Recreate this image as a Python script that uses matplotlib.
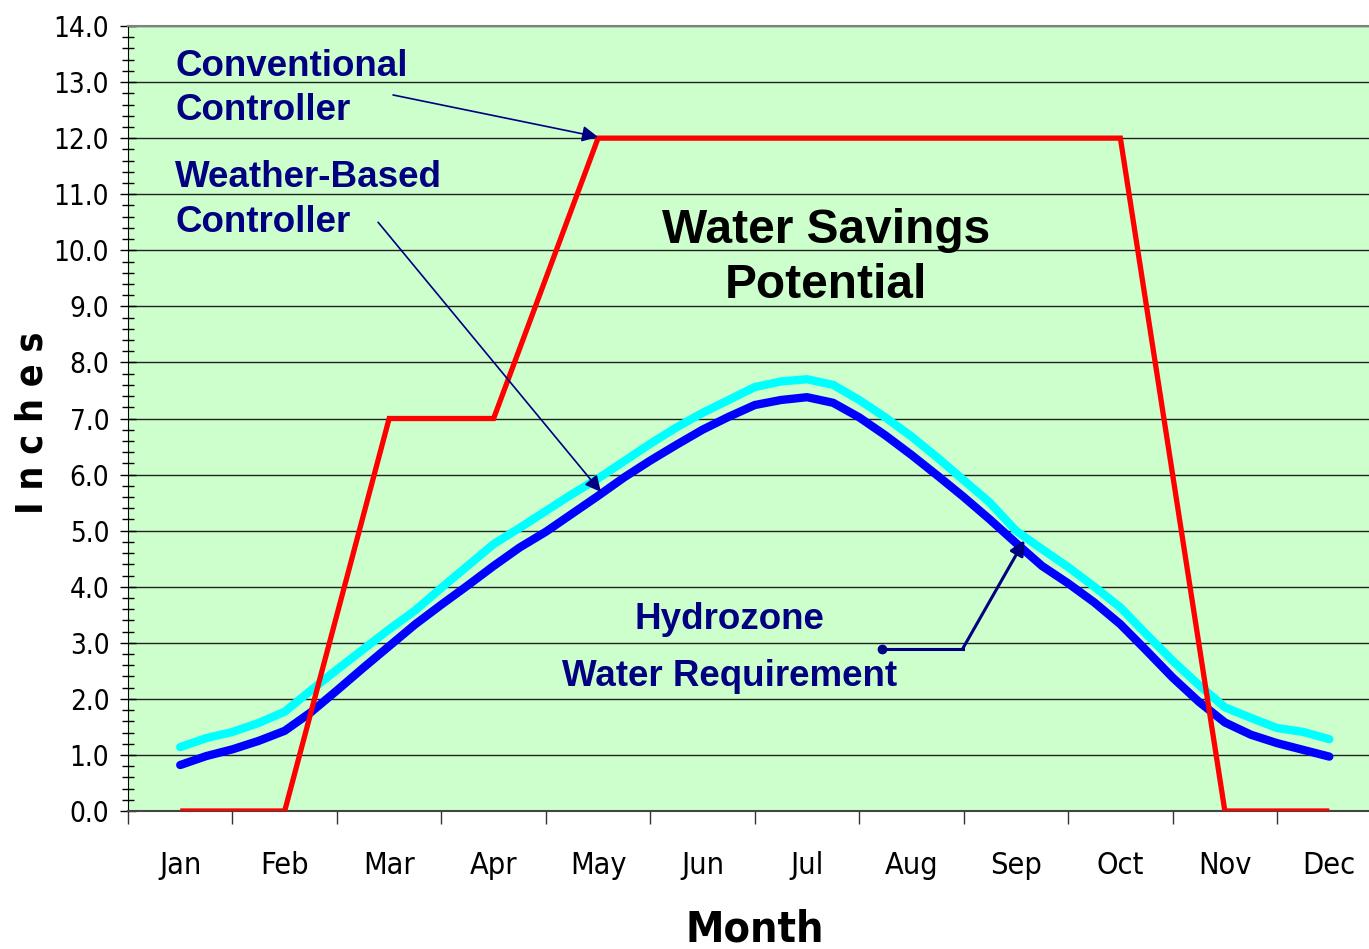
import matplotlib
matplotlib.use("Agg")
import matplotlib.pyplot as plt
from matplotlib import font_manager as fm
import numpy as np

# ---------------- data ----------------
months = ["Jan", "Feb", "Mar", "Apr", "May", "Jun",
          "Jul", "Aug", "Sep", "Oct", "Nov", "Dec"]
conventional = [0.0, 0.0, 7.0, 7.0, 12.0, 12.0, 12.0, 12.0, 12.0, 12.0, 0.0, 0.0]

# weather-based controller (quarter-month readings, Jan .. Dec)
weather_based = [0.82, 0.98, 1.10, 1.25, 1.43, 1.76, 2.15, 2.55, 2.94, 3.33,
                 3.68, 4.02, 4.37, 4.70, 4.98, 5.30, 5.62, 5.95, 6.25, 6.53,
                 6.80, 7.03, 7.24, 7.33, 7.38, 7.28, 7.02, 6.70, 6.35, 5.98,
                 5.60, 5.20, 4.78, 4.37, 4.06, 3.72, 3.33, 2.86, 2.38, 1.95,
                 1.58, 1.36, 1.21, 1.09, 0.97]
# hydrozone water requirement (quarter-month readings, Jan .. Dec)
hydrozone = [1.14, 1.30, 1.41, 1.57, 1.77, 2.15, 2.52, 2.88, 3.24, 3.58,
             3.98, 4.37, 4.76, 5.05, 5.35, 5.65, 5.93, 6.24, 6.55, 6.84,
             7.10, 7.33, 7.56, 7.66, 7.70, 7.60, 7.33, 7.02, 6.68, 6.30,
             5.90, 5.50, 5.00, 4.67, 4.35, 4.00, 3.63, 3.15, 2.68, 2.25,
             1.85, 1.66, 1.48, 1.41, 1.28]

y_ticks = [f"{v:.1f}" for v in range(15)]

# ---------------- fonts ----------------
def find_narrow(bold):
    best = None
    for f in fm.fontManager.ttflist:
        fn = f.fname.lower()
        if ("narrow" in fn or "condensed" in fn) and "mono" not in fn and "serif" not in fn:
            isbold = f.weight in ("bold", 700) or (isinstance(f.weight, int) and f.weight >= 600)
            if "oblique" in fn or "italic" in fn:
                continue
            if isbold == bold:
                if best is None or "liberation" in fn:
                    best = f.fname
    return best

nr = find_narrow(False)
nb = find_narrow(True)
arial = "Liberation Sans"
fp_tick = fm.FontProperties(fname=nr) if nr else fm.FontProperties(family=arial)
fp_bold = fm.FontProperties(fname=nb) if nb else fm.FontProperties(family=arial, weight="bold")

W, H = 1369, 949
fig = plt.figure(figsize=(W / 100, H / 100), dpi=100)
fig.patch.set_facecolor("white")

left, right, top, bottom = 128, 1369, 26, 811
ax = fig.add_axes([left / W, 1 - bottom / H, (right - left) / W, (bottom - top) / H])
ax.set_facecolor("#CCFFCC")

x_month = np.arange(len(months))
x_fine = np.arange(len(weather_based)) / 4.0

ax.plot(x_fine, hydrozone, color="#00FFFF", lw=6.0, solid_capstyle="round",
        solid_joinstyle="round", zorder=3)
ax.plot(x_fine, weather_based, color="#0000FF", lw=6.0, solid_capstyle="round",
        solid_joinstyle="round", zorder=4)
ax.plot(x_month, conventional, color="#FF0000", lw=3.8, solid_capstyle="butt",
        solid_joinstyle="miter", zorder=5)

# y axis
ax.set_yticks(np.arange(15))
ax.set_yticklabels(y_ticks)
ax.set_yticks(np.arange(0, 14.01, 0.2), minor=True)
ysize, xsize = 20, 22
ax.tick_params(axis="y", which="major", direction="inout", length=11, width=1.0,
               pad=8, colors="black")
ax.tick_params(axis="y", which="minor", direction="inout", length=9, width=1.0)

# x axis: labels at month centres, tick marks at boundaries
ax.set_xticks(x_month)
ax.set_xticklabels(months)
ax.set_xticks(np.arange(-0.5, 12, 1.0), minor=True)
ax.tick_params(axis="x", which="major", length=0, pad=29, colors="black")
ax.tick_params(axis="x", which="minor", direction="out", length=9, width=1.0,
               color="#333333")
for lab in ax.get_yticklabels():
    lab.set_fontproperties(fp_tick)
    lab.set_fontsize(ysize)
for lab in ax.get_xticklabels():
    lab.set_fontproperties(fp_tick)
    lab.set_fontsize(xsize)

ax.set_xlim(-0.5, 11.38)
ax.set_ylim(0, 14)

ax.grid(axis="y", which="major", color="#222222", lw=1.0, zorder=1)
ax.set_axisbelow(True)

ax.spines["right"].set_visible(False)
ax.spines["top"].set_color("#808080")
ax.spines["top"].set_linewidth(1.5)
ax.spines["left"].set_color("#000000")
ax.spines["bottom"].set_color("#444444")
ax.spines["bottom"].set_linewidth(1.5)

navy = "#000080"
tkw = dict(color=navy, fontsize=26.5, fontweight="bold", family=arial, zorder=7)
ax.text(-0.048, 13.11, "Conventional", ha="left", va="baseline", **tkw)
ax.text(-0.048, 12.32, "Controller", ha="left", va="baseline", **tkw)
ax.text(-0.048, 11.13, "Weather-Based", ha="left", va="baseline", **tkw)
ax.text(-0.048, 10.33, "Controller", ha="left", va="baseline", **tkw)
ax.text(5.26, 3.25, "Hydrozone", ha="center", va="baseline", **tkw)
ax.text(5.26, 2.23, "Water Requirement", ha="center", va="baseline", **tkw)

bkw = dict(color="black", fontsize=34.5, fontweight="bold", family=arial, zorder=7)
ax.text(6.18, 10.13, "Water Savings", ha="center", va="baseline", **bkw)
ax.text(6.18, 9.15, "Potential", ha="center", va="baseline", **bkw)

# arrows
akw = dict(arrowstyle="-|>", color=navy, lw=1.2, mutation_scale=24,
           shrinkA=0, shrinkB=0)
ax.annotate("", xy=(4.0, 12.02), xytext=(2.037, 12.77), arrowprops=akw, zorder=8)
ax.annotate("", xy=(4.027, 5.69), xytext=(1.894, 10.50), arrowprops=akw, zorder=8)

ax.plot([6.714, 7.489], [2.89, 2.89], color=navy, lw=2.2, zorder=8)
ax.plot([6.714], [2.89], "o", color=navy, ms=6, zorder=8)
akw2 = dict(arrowstyle="-|>", color=navy, lw=2.2, mutation_scale=22,
            shrinkA=0, shrinkB=0)
ax.annotate("", xy=(8.082, 4.83), xytext=(7.489, 2.89), arrowprops=akw2, zorder=8)

# axis titles
fig.text(755 / W, 1 - 941 / H, "Month", ha="center", va="baseline",
         fontproperties=fp_bold, fontsize=31, color="black")
fig.text(33 / W, 1 - 423 / H, "I n c h e s", ha="center", va="center", rotation=90,
         fontproperties=fp_bold, fontsize=27, color="black")

fig.savefig("out.png", dpi=100, facecolor="white")
